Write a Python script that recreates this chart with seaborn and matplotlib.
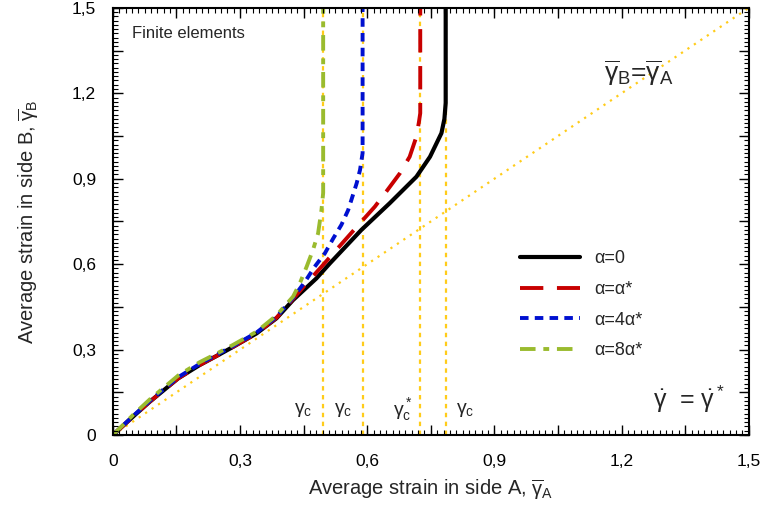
import numpy as np
import seaborn as sns
import matplotlib.pyplot as plt
from matplotlib.ticker import FixedLocator, FixedFormatter, MultipleLocator, NullFormatter, NullLocator

# curves
x_a0 = [0, 0.05, 0.087, 0.154, 0.205, 0.25, 0.284, 0.339, 0.386, 0.425, 0.48, 0.512,
        0.586, 0.653, 0.716, 0.748, 0.775, 0.782, 0.785, 0.785]
y_a0 = [0, 0.068, 0.117, 0.199, 0.246, 0.282, 0.31, 0.357, 0.41, 0.474, 0.55, 0.603,
        0.72, 0.814, 0.907, 0.977, 1.06, 1.11, 1.166, 1.5]

x_a1 = [0, 0.05, 0.087, 0.154, 0.205, 0.25, 0.284, 0.339, 0.386, 0.425, 0.457, 0.492,
        0.527, 0.555, 0.586, 0.618, 0.645, 0.677, 0.700, 0.716, 0.722, 0.725, 0.725]
y_a1 = [0, 0.068, 0.117, 0.199, 0.246, 0.282, 0.31, 0.357, 0.412, 0.478, 0.533, 0.591,
        0.65, 0.697, 0.749, 0.802, 0.855, 0.919, 0.977, 1.048, 1.10, 1.13, 1.5]

x_a4 = [0, 0.05, 0.087, 0.154, 0.205, 0.25, 0.284, 0.339, 0.386, 0.425, 0.453, 0.476,
        0.5, 0.52, 0.539, 0.555, 0.575, 0.583, 0.589, 0.589]
y_a4 = [0, 0.07, 0.12, 0.203, 0.25, 0.286, 0.313, 0.36, 0.415, 0.482, 0.538, 0.591,
        0.638, 0.691, 0.738, 0.79, 0.884, 0.931, 0.99, 1.5]

x_a8 = [0, 0.05, 0.087, 0.154, 0.205, 0.25, 0.284, 0.339, 0.386, 0.425, 0.441, 0.457,
        0.472, 0.484, 0.492, 0.496, 0.496]
y_a8 = [0, 0.074, 0.125, 0.209, 0.256, 0.29, 0.317, 0.363, 0.42, 0.486, 0.533, 0.591,
        0.65, 0.708, 0.79, 0.85, 1.5]

gamma_c = [0.496, 0.589, 0.725, 0.785]
gc_labels = ['$\\gamma_c$', '$\\gamma_c$', '$\\gamma_c^*$', '$\\gamma_c$']
gc_label_x = [0.449, 0.543, 0.684, 0.83]

major_ticks = [0, 0.15, 0.3, 0.45, 0.6, 0.75, 0.9, 1.05, 1.2, 1.35, 1.5]
tick_labels = ['0', '', '0,3', '', '0,6', '', '0,9', '', '1,2', '', '1,5']

sns.set_style('ticks')
plt.rcParams['font.family'] = ['Liberation Sans', 'DejaVu Sans']
plt.rcParams['mathtext.fontset'] = 'custom'
plt.rcParams['mathtext.rm'] = 'Liberation Sans'
plt.rcParams['mathtext.it'] = 'Liberation Sans'
for a in ('xtick', 'ytick'):
    plt.rcParams[a + '.direction'] = 'in'
    plt.rcParams[a + '.color'] = 'black'
    plt.rcParams[a + '.major.size'] = 7
    plt.rcParams[a + '.major.width'] = 1
    plt.rcParams[a + '.labelsize'] = 12.5
plt.rcParams['xtick.major.pad'] = 14
plt.rcParams['ytick.major.pad'] = 12
plt.rcParams['xtick.top'] = True
plt.rcParams['ytick.right'] = True

rect = [0.147, 0.165, 0.828, 0.82]
fig = plt.figure(figsize=(7.68, 5.21), dpi=100)
ax = fig.add_axes(rect)

gold = '#ffcc1a'
ax.plot([0, 1.5], [0, 1.5], color=gold, lw=1.6, ls=(0, (1, 2.5)), zorder=1)
for g in gamma_c:
    ax.plot([g, g], [0, 1.5], color=gold, lw=1.6, ls=(0, (2, 2)), zorder=1)

sns.lineplot(x=x_a0, y=y_a0, sort=False, estimator=None, color='black', lw=3,
             label='α=0', ax=ax)
sns.lineplot(x=x_a1, y=y_a1, sort=False, estimator=None, color='#c80000', lw=2.8,
             linestyle=(0, (6, 3.5)), label='α=α*', ax=ax)
sns.lineplot(x=x_a4, y=y_a4, sort=False, estimator=None, color='#0010d0', lw=2.8,
             linestyle=(0, (2.2, 1.6)), label='α=4α*', ax=ax)
sns.lineplot(x=x_a8, y=y_a8, sort=False, estimator=None, color='#9abb2e', lw=2.8,
             linestyle=(0, (4, 2, 1.5, 2)), label='α=8α*', ax=ax)

for s in ax.spines.values():
    s.set_linewidth(1.5)
    s.set_color('black')

ax.set_xlabel('Average strain in side A, $\\overline{\\gamma}_A$', fontsize=14.5, labelpad=6)
ax.set_ylabel('Average strain in side B, $\\overline{\\gamma}_B$', fontsize=14.5, labelpad=22)

ax.text(0.03, 0.93, 'Finite elements', transform=ax.transAxes, fontsize=12)
ax.text(1.24, 1.27, '$\\overline{\\gamma}_B$=$\\overline{\\gamma}_A$', fontsize=19,
        ha='center', va='center')
ax.text(1.36, 0.125, '$\\dot{\\gamma}$  = $\\dot{\\gamma}^*$', fontsize=18,
        ha='center', va='center')
for lx, lab in zip(gc_label_x, gc_labels):
    ax.text(lx, 0.088, lab, fontsize=14, ha='center', va='center')

ax.legend(loc='upper left', bbox_to_anchor=(0.615, 0.47), frameon=False, fontsize=13,
          handlelength=3.3, labelspacing=0.75)

ax.set_xlim(0, 1.5)
ax.set_ylim(0, 1.5)
for axis in (ax.xaxis, ax.yaxis):
    axis.set_major_locator(FixedLocator(major_ticks))
    axis.set_major_formatter(FixedFormatter(tick_labels))
    axis.set_minor_locator(NullLocator())

# small ticks every 0.015 on a transparent overlay
ax2 = fig.add_axes(rect, facecolor='none')
ax2.set_xlim(0, 1.5)
ax2.set_ylim(0, 1.5)
for axis in (ax2.xaxis, ax2.yaxis):
    axis.set_major_locator(MultipleLocator(0.015))
    axis.set_major_formatter(NullFormatter())
    axis.set_minor_locator(NullLocator())
ax2.tick_params(which='major', length=3.5, width=0.8, direction='in', color='black',
                bottom=True, top=True, left=True, right=True,
                labelbottom=False, labelleft=False)
for s in ax2.spines.values():
    s.set_visible(False)

fig.savefig('out.png', dpi=100)
